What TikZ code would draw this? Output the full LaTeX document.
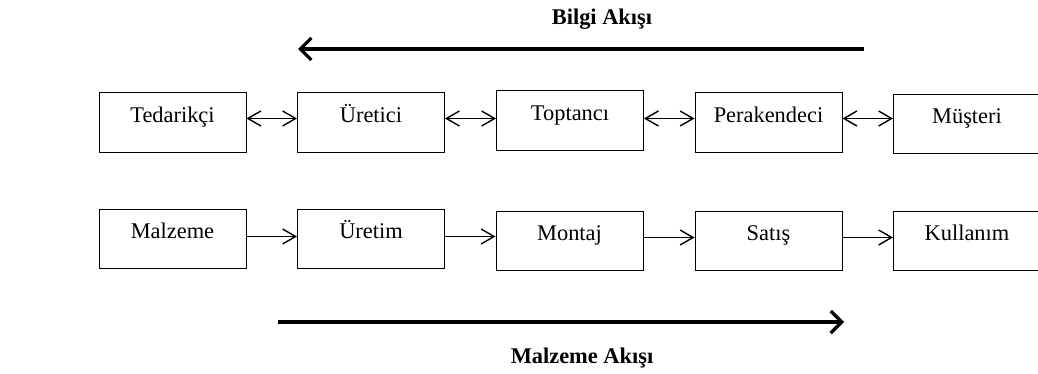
\documentclass[tikz,border=0pt]{standalone}
\usepackage{fontspec}
\setmainfont{Liberation Serif}
\usepackage{tikz}
\usetikzlibrary{shapes,arrows.meta,positioning}
\tikzstyle{stage} = [draw,line width=0.5pt,rectangle,inner sep=0,minimum width=73.5pt,text height=14.5pt,text depth=15pt,font=\fontsize{11.2}{13}\selectfont]
\tikzstyle{link} = [line width=0.7pt,arrows={-Straight Barb[length=6.5pt,width=7.5pt]}]
\tikzstyle{both} = [line width=0.7pt,arrows={Straight Barb[length=6.5pt,width=7.5pt]-Straight Barb[length=6.5pt,width=7.5pt]}]
\tikzstyle{flow} = [line width=1.6pt,arrows={-Straight Barb[length=5.5pt,width=11pt]}]
\tikzstyle{caption} = [anchor=base,inner sep=0,font=\fontsize{11.2}{13}\selectfont\bfseries]
\def \up {2pt}

\begin{document}
\begin{tikzpicture}[x=0.5pt,y=-0.5pt]
  \path[use as bounding box,clip] (0,0) rectangle (1038,374);

  % bilgi
  \node[stage] (ted) at (172.5,122.5) {Tedarikçi};
  \node[stage] (uri) at (371,122.5) {Üretici};
  \node[stage] (top) at (570,120.5) {Toptancı};
  \node[stage] (per) at (768.5,122.5) {Perakendeci};
  \node[stage] (mus) at (967,124) {Müşteri};

  \draw[both] ([yshift=\up]ted.east) -- ([yshift=\up]ted.east -| uri.west);
  \draw[both] ([yshift=\up]uri.east) -- ([yshift=\up]uri.east -| top.west);
  \draw[both] ([yshift=\up]per.west -| top.east) -- ([yshift=\up]per.west);
  \draw[both] ([yshift=\up]per.east) -- ([yshift=\up]per.east -| mus.west);

  % malzeme
  \node[stage] (mal) at (172.5,238.5) {Malzeme};
  \node[stage] (ure) at (371,238.5) {Üretim};
  \node[stage] (mon) at (569.5,240.5) {Montaj};
  \node[stage] (sat) at (768.5,240.5) {Satış};
  \node[stage] (kul) at (967,240.5) {Kullanım};

  \draw[link] ([yshift=1pt]mal.east) -- ([yshift=1pt]mal.east -| ure.west);
  \draw[link] ([yshift=1pt]ure.east) -- ([yshift=1pt]ure.east -| mon.west);
  \draw[link] ([yshift=1.5pt]mon.east) -- ([yshift=1.5pt]mon.east -| sat.west);
  \draw[link] ([yshift=1.5pt]sat.east) -- ([yshift=1.5pt]sat.east -| kul.west);

  % akislar
  \coordinate (bs) at (864,49);
  \coordinate (be) at (298,49);
  \draw[flow] (bs) -- (be);
  \node[caption] (bilgi) at (602,25) {Bilgi Akışı};

  \coordinate (ms) at (278,322);
  \coordinate (me) at (844,322);
  \draw[flow] (ms) -- (me);
  \node[caption] (malz) at (582,363) {Malzeme Akışı};
\end{tikzpicture}
\end{document}
